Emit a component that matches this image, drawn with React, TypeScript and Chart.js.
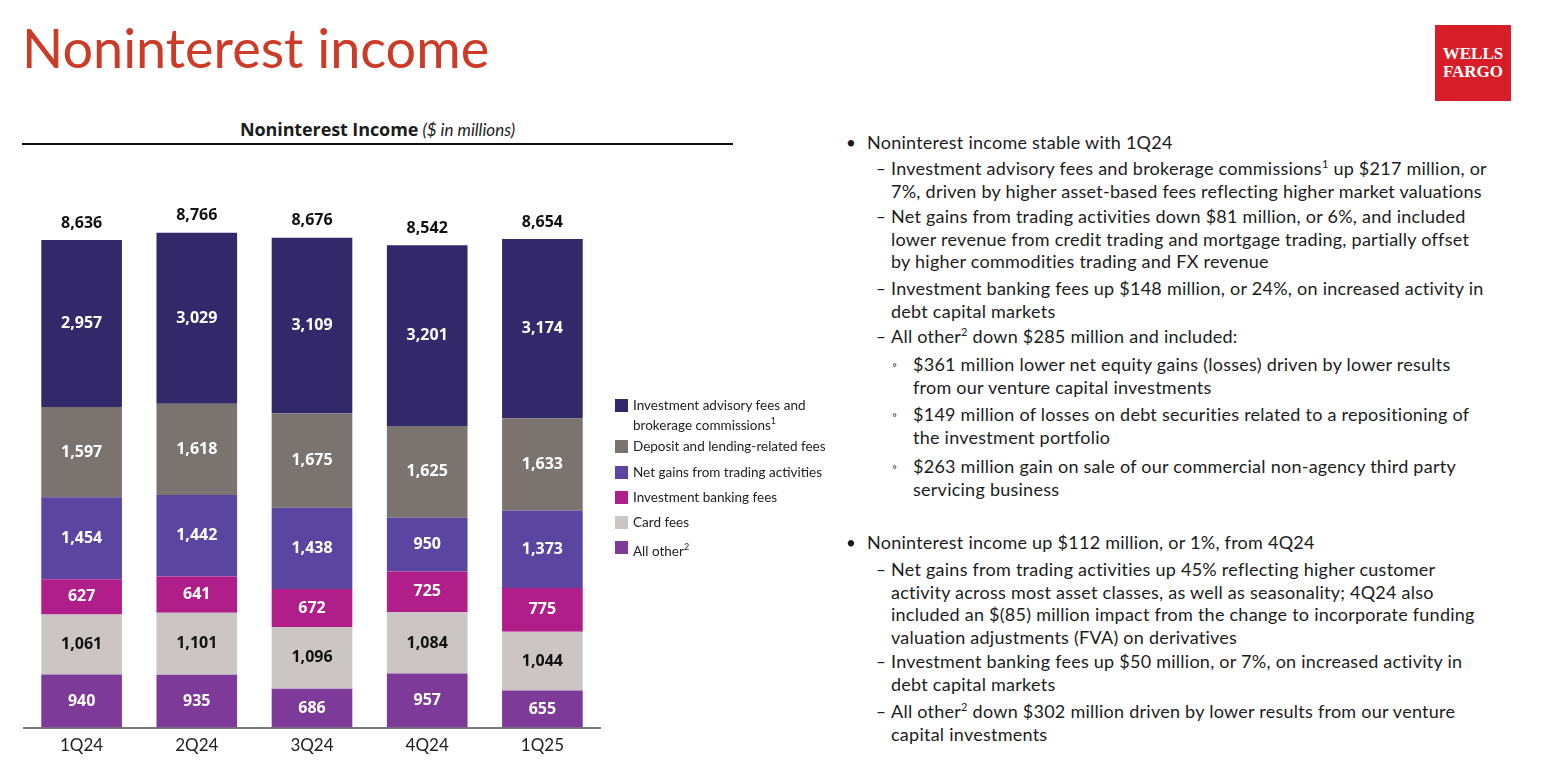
import React, { useEffect, useRef } from "react";
import { Chart, registerables } from "chart.js";

Chart.register(...registerables);

const categories = ["1Q24", "2Q24", "3Q24", "4Q24", "1Q25"];
const allOther = [940, 935, 686, 957, 655];
const cardFees = [1061, 1101, 1096, 1084, 1044];
const investmentBanking = [627, 641, 672, 725, 775];
const tradingGains = [1454, 1442, 1438, 950, 1373];
const depositLending = [1597, 1618, 1675, 1625, 1633];
const advisoryBrokerage = [2957, 3029, 3109, 3201, 3174];
const totals = [8636, 8766, 8676, 8542, 8654];

const seriesNames = [
  "All other",
  "Card fees",
  "Investment banking fees",
  "Net gains from trading activities",
  "Deposit and lending-related fees",
  "Investment advisory fees and brokerage commissions",
];
const seriesColors = ["#7d3a98", "#cbc6c5", "#b01e8a", "#5a45a0", "#7b7370", "#33296a"];
const labelColors = ["#ffffff", "#111111", "#ffffff", "#ffffff", "#ffffff", "#ffffff"];

const fmt = (v: number) => v.toLocaleString("en-US");

const labelPlugin = {
  id: "segLabels",
  afterDatasetsDraw(chart: any) {
    const ctx = chart.ctx;
    ctx.save();
    ctx.textAlign = "center";
    ctx.textBaseline = "middle";
    ctx.font = "bold 16px 'Open Sans'";
    chart.data.datasets.forEach((ds: any, di: number) => {
      const meta = chart.getDatasetMeta(di);
      meta.data.forEach((el: any, i: number) => {
        const { x, y, base } = el.getProps(["x", "y", "base"], true);
        ctx.fillStyle = labelColors[di];
        ctx.fillText(fmt(ds.data[i]), x, (y + base) / 2);
      });
    });
    const last = chart.getDatasetMeta(chart.data.datasets.length - 1);
    ctx.fillStyle = "#111111";
    last.data.forEach((el: any, i: number) => {
      const { x, y } = el.getProps(["x", "y"], true);
      ctx.fillText(fmt(totals[i]), x, y - 17);
    });
    ctx.restore();
  },
};

const legendItems = [
  { c: seriesColors[5], t: <>Investment advisory fees and<br />brokerage commissions<sup style={{ fontSize: 9 }}>1</sup></>, top: 397 },
  { c: seriesColors[4], t: <>Deposit and lending-related fees</>, top: 438 },
  { c: seriesColors[3], t: <>Net gains from trading activities</>, top: 464 },
  { c: seriesColors[2], t: <>Investment banking fees</>, top: 489 },
  { c: seriesColors[1], t: <>Card fees</>, top: 514 },
  { c: seriesColors[0], t: <>All other<sup style={{ fontSize: 9 }}>2</sup></>, top: 539 },
];

const sup = (n: string) => <sup style={{ fontSize: 11, lineHeight: 0, verticalAlign: 7 }}>{n}</sup>;

type Item = { kind: "b" | "d" | "s"; top: number; lines: React.ReactNode };
const textItems: Item[] = [
  { kind: "b", top: 132, lines: <>Noninterest income stable with 1Q24</> },
  { kind: "d", top: 158, lines: <>Investment advisory fees and brokerage commissions{sup("1")} up $217 million, or<br />7%, driven by higher asset-based fees reflecting higher market valuations</> },
  { kind: "d", top: 206, lines: <>Net gains from trading activities down $81 million, or 6%, and included<br />lower revenue from credit trading and mortgage trading, partially offset<br />by higher commodities trading and FX revenue</> },
  { kind: "d", top: 278, lines: <>Investment banking fees up $148 million, or 24%, on increased activity in<br />debt capital markets</> },
  { kind: "d", top: 326, lines: <>All other{sup("2")} down $285 million and included:</> },
  { kind: "s", top: 354, lines: <>$361 million lower net equity gains (losses) driven by lower results<br />from our venture capital investments</> },
  { kind: "s", top: 404, lines: <>$149 million of losses on debt securities related to a repositioning of<br />the investment portfolio</> },
  { kind: "s", top: 456, lines: <>$263 million gain on sale of our commercial non-agency third party<br />servicing business</> },
  { kind: "b", top: 532, lines: <>Noninterest income up $112 million, or 1%, from 4Q24</> },
  { kind: "d", top: 559, lines: <>Net gains from trading activities up 45% reflecting higher customer<br />activity across most asset classes, as well as seasonality; 4Q24 also<br />included an $(85) million impact from the change to incorporate funding<br />valuation adjustments (FVA) on derivatives</> },
  { kind: "d", top: 651, lines: <>Investment banking fees up $50 million, or 7%, on increased activity in<br />debt capital markets</> },
  { kind: "d", top: 701, lines: <>All other{sup("2")} down $302 million driven by lower results from our venture<br />capital investments</> },
];

const markerX = { b: 846, d: 876, s: 892 };
const textX = { b: 867, d: 891, s: 913 };
const markerChar = { b: "•", d: "–", s: "◦" };

export default function App() {
  const ref = useRef<HTMLCanvasElement>(null);
  useEffect(() => {
    const series = [allOther, cardFees, investmentBanking, tradingGains, depositLending, advisoryBrokerage];
    const chart = new Chart(ref.current as HTMLCanvasElement, {
      type: "bar",
      data: {
        labels: categories,
        datasets: series.map((d, i) => ({
          label: seriesNames[i],
          data: d,
          backgroundColor: seriesColors[i],
          borderWidth: 0,
          categoryPercentage: 1,
          barPercentage: 0.7,
        })),
      },
      options: {
        responsive: false,
        animation: false,
        devicePixelRatio: 1,
        layout: { padding: { left: 24, right: 20, top: 13, bottom: 10 } },
        plugins: { legend: { display: false }, tooltip: { enabled: false }, title: { display: false } },
        scales: {
          x: {
            stacked: true,
            grid: { display: false, drawTicks: false },
            border: { display: true, color: "#777777", width: 2 },
            ticks: { color: "#222222", font: { family: "Lato", size: 17 }, padding: 8 },
          },
          y: { stacked: true, display: false, min: 0, max: 10000 },
        },
      },
      plugins: [labelPlugin],
    });
    return () => chart.destroy();
  }, []);

  return (
    <div style={{ position: "absolute", left: 0, top: 0, width: 1546, height: 774, background: "#fff", overflow: "hidden", fontFamily: "Lato, sans-serif", color: "#1c1c1c" }}>
      <div style={{ position: "absolute", left: 22, top: 15, fontSize: 54, color: "#cc3b27", lineHeight: "66px", whiteSpace: "nowrap" }}>Noninterest income</div>
      <div style={{ position: "absolute", left: 1435, top: 25, width: 76, height: 76, background: "#d71e28", color: "#fff", fontFamily: "'Liberation Serif', serif", fontWeight: 700, fontSize: 17, lineHeight: "18px", textAlign: "center", display: "flex", flexDirection: "column", justifyContent: "center" }}>
        <div>WELLS</div>
        <div>FARGO</div>
      </div>
      <div style={{ position: "absolute", left: 22, top: 118, width: 711, textAlign: "center", lineHeight: "22px", whiteSpace: "nowrap" }}>
        <span style={{ fontWeight: 700, fontFamily: "'Open Sans'", fontSize: 18, letterSpacing: -0.1 }}>Noninterest Income</span> <span style={{ fontStyle: "italic", fontSize: 17 }}>($ in millions)</span>
      </div>
      <div style={{ position: "absolute", left: 22, top: 143, width: 711, height: 2, background: "#111" }} />
      <canvas ref={ref} width={620} height={624} style={{ position: "absolute", left: 0, top: 150, width: 620, height: 624 }} />
      {legendItems.map((it, i) => (
        <div key={i} style={{ position: "absolute", left: 615, top: it.top }}>
          <div style={{ position: "absolute", left: 0, top: 2, width: 13, height: 13, background: it.c }} />
          <div style={{ position: "absolute", left: 18, top: 0, fontSize: 13.5, lineHeight: "16px", whiteSpace: "nowrap", color: "#222" }}>{it.t}</div>
        </div>
      ))}
      {textItems.map((it, i) => (
        <React.Fragment key={i}>
          <div style={{ position: "absolute", left: markerX[it.kind], top: it.top, fontSize: it.kind === "s" ? 12 : 17, lineHeight: "22px" }}>{markerChar[it.kind]}</div>
          <div style={{ position: "absolute", left: textX[it.kind], top: it.top - 1, fontSize: 18, letterSpacing: 0.25, lineHeight: "22.5px", whiteSpace: "nowrap" }}>{it.lines}</div>
        </React.Fragment>
      ))}
    </div>
  );
}
